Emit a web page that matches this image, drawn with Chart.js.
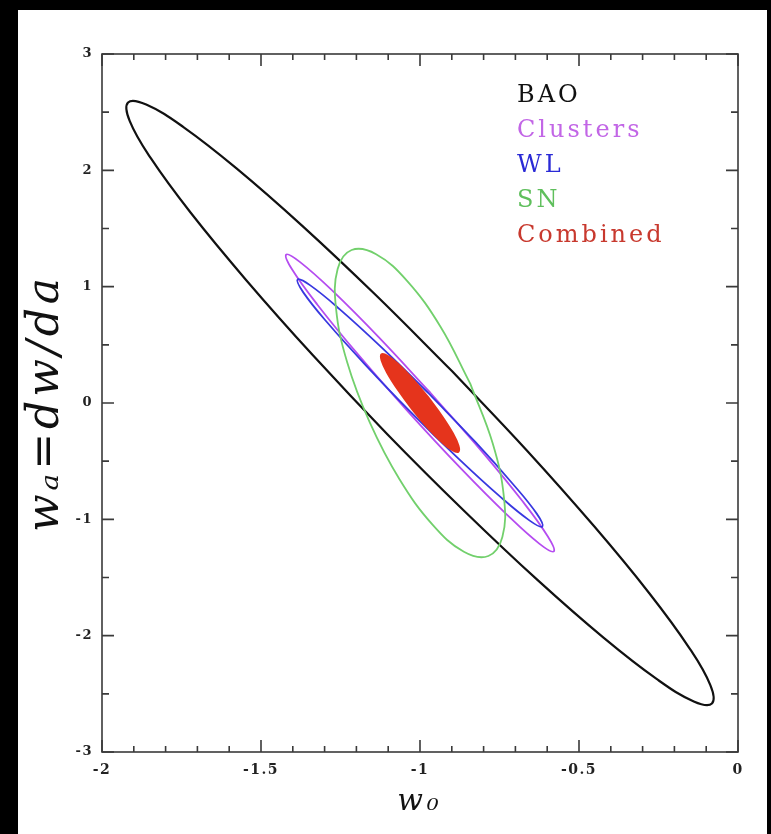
<!DOCTYPE html>
<html>
<head>
<meta charset="utf-8">
<script src="https://cdn.jsdelivr.net/npm/chart.js@4/dist/chart.umd.min.js"></script>
<style>
  html, body { margin: 0; padding: 0; background: #000; }
  #panel { position: absolute; left: 18px; top: 10px; width: 749px; height: 824px; background: #fff; }
  #wrap { position: absolute; left: 0; top: 0; width: 771px; height: 834px; }
</style>
</head>
<body>
<div id="panel"></div>
<div id="wrap"><canvas id="myChart" width="771" height="834"></canvas></div>
<script>
// contour outlines in the (w0, wa) plane, one pair of arrays per probe
var seriesNames = ['BAO', 'Clusters', 'WL', 'SN', 'Combined'];
var lineColors = ['#111111', '#b54cf0', '#3838e0', '#72d06c', '#e5341c'];
var textColors = ['#111111', '#c266e6', '#2a2ad6', '#5fbf5c', '#c8392e'];

var baoW0 = [-0.898, -1.140, -1.371, -1.577, -1.744, -1.861, -1.918, -1.913, -1.846, -1.721, -1.547, -1.336, -1.102,
             -0.860, -0.629, -0.423, -0.256, -0.139, -0.082, -0.087, -0.154, -0.279, -0.453, -0.664, -0.898];
var baoWa = [0.270, 0.930, 1.525, 2.017, 2.372, 2.565, 2.583, 2.425, 2.102, 1.635, 1.058, 0.408, -0.270,
             -0.930, -1.525, -2.017, -2.372, -2.565, -2.583, -2.425, -2.102, -1.635, -1.058, -0.408, 0.270];

var clusW0 = [-0.966, -1.130, -1.274, -1.377, -1.421, -1.402, -1.322, -1.193, -1.034, -0.870, -0.726, -0.624, -0.579, -0.598, -0.678, -0.807, -0.966];
var clusWa = [0.084, 0.566, 0.961, 1.211, 1.276, 1.147, 0.843, 0.411, -0.084, -0.566, -0.961, -1.211, -1.276, -1.147, -0.843, -0.411, 0.084];

var wlW0 = [-0.971, -1.121, -1.252, -1.345, -1.385, -1.367, -1.293, -1.174, -1.029, -0.879, -0.748, -0.655, -0.615, -0.633, -0.708, -0.826, -0.971];
var wlWa = [0.078, 0.478, 0.805, 1.011, 1.062, 0.951, 0.696, 0.335, -0.078, -0.478, -0.805, -1.011, -1.062, -0.951, -0.696, -0.335, 0.078];

var snW0 = [-0.842, -0.936, -1.040, -1.138, -1.215, -1.259, -1.264, -1.229, -1.158, -1.064, -0.960, -0.862, -0.785, -0.741, -0.736, -0.771, -0.842];
var snWa = [0.167, 0.658, 1.048, 1.279, 1.315, 1.152, 0.812, 0.350, -0.167, -0.658, -1.048, -1.279, -1.315, -1.152, -0.812, -0.350, 0.167];

var combW0 = [-0.975, -1.024, -1.068, -1.102, -1.121, -1.121, -1.103, -1.069, -1.025, -0.977, -0.932, -0.898, -0.879, -0.879, -0.897, -0.931, -0.975];
var combWa = [0.053, 0.210, 0.334, 0.407, 0.419, 0.366, 0.258, 0.111, -0.053, -0.210, -0.334, -0.407, -0.419, -0.366, -0.258, -0.111, 0.053];

var w0Ticks = [-2, -1.5, -1, -0.5, 0];
var waTicks = [-3, -2, -1, 0, 1, 2, 3];

function toPoints(xs, ys) {
    let pts = [];
    for (let i = 0; i < xs.length; i++) {
        pts.push({x: xs[i], y: ys[i]});
    }
    return pts;
}

var contours = [[baoW0, baoWa], [clusW0, clusWa], [wlW0, wlWa], [snW0, snWa], [combW0, combWa]];

var datasets = [];
for (let i = 0; i < contours.length; i++) {
    datasets.push({
        label: seriesNames[i],
        data: toPoints(contours[i][0], contours[i][1]),
        showLine: true,
        borderColor: lineColors[i],
        backgroundColor: lineColors[i],
        borderWidth: i == 0 ? 2.2 : 1.8,
        pointRadius: 0,
        tension: 0.4,
        fill: i == 4 ? 'shape' : false,
        order: contours.length - 1 - i
    });
}

// box around the plot with inward tick marks, plus the coloured key
var frameAndKey = {
    id: 'frameAndKey',
    beforeDraw(chart) {
        // axis titles are drawn before the datasets, tick labels after them (ticks.z = 1)
        chart.ctx.letterSpacing = '4px';
    },
    beforeDatasetsDraw(chart) {
        chart.ctx.letterSpacing = '1.5px';
    },
    afterDatasetsDraw(chart) {
        const ctx = chart.ctx;
        const a = chart.chartArea;
        const x = chart.scales.x, y = chart.scales.y;
        ctx.save();
        ctx.strokeStyle = '#3a3a3a';
        ctx.lineWidth = 1.6;
        ctx.strokeRect(a.left, a.top, a.right - a.left, a.bottom - a.top);
        ctx.beginPath();
        for (let i = 0; i <= 20; i++) {
            let px = x.getPixelForValue(-2 + i * 0.1);
            let len = i % 5 == 0 ? 12 : 6;
            ctx.moveTo(px, a.bottom); ctx.lineTo(px, a.bottom - len);
            ctx.moveTo(px, a.top); ctx.lineTo(px, a.top + len);
        }
        for (let i = 0; i <= 12; i++) {
            let py = y.getPixelForValue(-3 + i * 0.5);
            let len = i % 2 == 0 ? 12 : 7;
            ctx.moveTo(a.left, py); ctx.lineTo(a.left + len, py);
            ctx.moveTo(a.right, py); ctx.lineTo(a.right - len, py);
        }
        ctx.stroke();

        ctx.font = '24px "DejaVu Serif"';
        ctx.letterSpacing = '3px';
        ctx.textBaseline = 'alphabetic';
        ctx.textAlign = 'left';
        for (let i = 0; i < seriesNames.length; i++) {
            ctx.fillStyle = textColors[i];
            ctx.fillText(seriesNames[i], 517, 102 + i * 35);
        }
        ctx.restore();
    }
};

const ctx = document.getElementById('myChart').getContext('2d');
const myChart = new Chart(ctx, {
    type: 'scatter',
    data: { datasets: datasets },
    plugins: [frameAndKey],
    options: {
        responsive: false,
        devicePixelRatio: 1,
        animation: false,
        layout: { padding: { top: 54, right: 33, left: 0, bottom: 0 } },
        plugins: {
            legend: { display: false },
            tooltip: { enabled: false }
        },
        scales: {
            x: {
                type: 'linear',
                min: -2,
                max: 0,
                afterBuildTicks: function(scale) {
                    scale.ticks = w0Ticks.map(v => ({value: v}));
                },
                afterFit: function(scale) { scale.height = 82; },
                grid: { display: false, drawTicks: false, tickLength: 0 },
                border: { display: false },
                ticks: {
                    z: 1,
                    padding: 10,
                    color: '#222',
                    font: { family: 'DejaVu Serif', size: 14, weight: 'bold' },
                    maxRotation: 0,
                    callback: v => String(v)
                },
                title: {
                    display: true,
                    text: 'w₀',
                    color: '#111',
                    font: { family: 'DejaVu Serif', style: 'italic', size: 30 },
                    padding: { top: 0, bottom: 14 }
                }
            },
            y: {
                type: 'linear',
                min: -3,
                max: 3,
                afterBuildTicks: function(scale) {
                    scale.ticks = waTicks.map(v => ({value: v}));
                },
                afterFit: function(scale) { scale.width = 102; },
                grid: { display: false, drawTicks: false, tickLength: 0 },
                border: { display: false },
                ticks: {
                    z: 1,
                    padding: 9,
                    color: '#222',
                    font: { family: 'DejaVu Serif', size: 13, weight: 'bold' },
                    callback: v => String(v)
                },
                title: {
                    display: true,
                    text: 'wₐ=dw/da',
                    color: '#111',
                    font: { family: 'DejaVu Serif', style: 'italic', size: 44 },
                    padding: { top: 20, bottom: 0 }
                }
            }
        }
    }
});
</script>
</body>
</html>
